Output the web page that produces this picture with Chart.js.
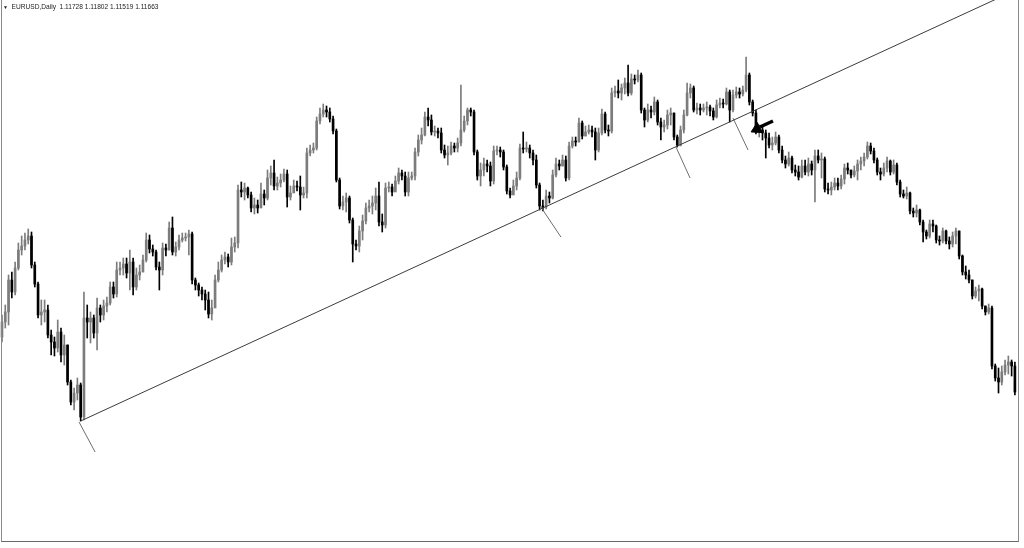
<!DOCTYPE html>
<html>
<head>
<meta charset="utf-8">
<script src="https://cdn.jsdelivr.net/npm/chart.js@4/dist/chart.umd.min.js"></script>
<style>
  html, body { margin: 0; padding: 0; background: #fff; }
  #wrap { position: relative; width: 1024px; height: 548px; overflow: hidden; }
  #chart { position: absolute; left: 0; top: 0; }
  #frame {
    position: absolute; left: 1px; top: 0; width: 1016px; height: 541px;
    border-left: 1px solid #8a8a8a; border-right: 1px solid #8a8a8a; border-bottom: 1px solid #6a6a6a;
    pointer-events: none;
  }
  #hdr {
    position: absolute; left: 3px; top: 3px; font-family: "Liberation Sans", Arial, sans-serif;
    font-size: 6.6px; color: #222; white-space: pre; line-height: 8px;
  }
</style>
</head>
<body>
<div id="wrap">
  <canvas id="chart" width="1024" height="548"></canvas>
  <div id="frame"></div>
  <div id="hdr"><span style="font-size:5px">▼</span>  EURUSD,Daily  1.11728 1.11802 1.11519 1.11663</div>
</div>
<script>
// daily candles, oldest first (open of each bar = previous close)
const firstOpen = 1.1663;
const closes = [
  1.1678,1.1688,1.1720,1.1708,1.1732,1.1750,1.1754,1.1760,1.1764,1.1735,
  1.1716,1.1685,1.1688,1.1690,1.1665,1.1658,1.1652,1.1668,1.1645,1.1655,
  1.1618,1.1598,1.1607,1.1615,1.1583,1.1682,1.1678,1.1682,1.1667,1.1692,
  1.1685,1.1694,1.1697,1.1713,1.1706,1.1730,1.1732,1.1736,1.1727,1.1738,
  1.1713,1.1725,1.1728,1.1740,1.1760,1.1751,1.1748,1.1733,1.1730,1.1752,
  1.1750,1.1772,1.1748,1.1753,1.1760,1.1762,1.1763,1.1766,1.1720,1.1715,
  1.1710,1.1706,1.1700,1.1686,1.1692,1.1720,1.1730,1.1740,1.1743,1.1738,
  1.1753,1.1757,1.1810,1.1808,1.1812,1.1805,1.1792,1.1795,1.1792,1.1806,
  1.1802,1.1822,1.1827,1.1814,1.1817,1.1820,1.1826,1.1803,1.1807,1.1814,
  1.1813,1.1805,1.1807,1.1847,1.1850,1.1852,1.1879,1.1886,1.1890,1.1888,
  1.1881,1.1869,1.1820,1.1794,1.1798,1.1802,1.1780,1.1756,1.1754,1.1769,
  1.1779,1.1792,1.1794,1.1797,1.1804,1.1778,1.1775,1.1812,1.1813,1.1808,
  1.1819,1.1827,1.1824,1.1808,1.1822,1.1824,1.1848,1.1860,1.1865,1.1883,
  1.1880,1.1868,1.1869,1.1867,1.1850,1.1845,1.1847,1.1854,1.1852,1.1857,
  1.1870,1.1879,1.1890,1.1888,1.1848,1.1824,1.1830,1.1836,1.1834,1.1819,
  1.1849,1.1850,1.1848,1.1833,1.1809,1.1805,1.1814,1.1822,1.1852,1.1851,
  1.1852,1.1847,1.1840,1.1815,1.1794,1.1793,1.1804,1.1802,1.1825,1.1836,
  1.1834,1.1840,1.1822,1.1854,1.1859,1.1858,1.1877,1.1864,1.1868,1.1870,
  1.1868,1.1850,1.1867,1.1886,1.1870,1.1869,1.1907,1.1909,1.1907,1.1912,
  1.1917,1.1907,1.1921,1.1920,1.1925,1.1890,1.1880,1.1890,1.1888,1.1898,
  1.1878,1.1873,1.1875,1.1885,1.1887,1.1863,1.1855,1.1870,1.1885,1.1907,
  1.1912,1.1890,1.1892,1.1890,1.1892,1.1893,1.1889,1.1883,1.1895,1.1897,
  1.1896,1.1908,1.1890,1.1905,1.1908,1.1906,1.1910,1.1925,1.1898,1.1887,
  1.1869,1.1870,1.1867,1.1862,1.1855,1.1857,1.1863,1.1850,1.1840,1.1836,
  1.1842,1.1830,1.1828,1.1823,1.1834,1.1828,1.1836,1.1830,1.1844,1.1840,
  1.1841,1.1811,1.1810,1.1813,1.1817,1.1814,1.1821,1.1832,1.1830,1.1825,
  1.1829,1.1836,1.1839,1.1843,1.1854,1.1849,1.1840,1.1828,1.1826,1.1832,
  1.1839,1.1828,1.1835,1.1818,1.1806,1.1804,1.1807,1.1789,1.1787,1.1790,
  1.1778,1.1768,1.1764,1.1776,1.1774,1.1760,1.1759,1.1769,1.1759,1.1756,
  1.1764,1.1769,1.1744,1.1728,1.1725,1.1720,1.1704,1.1709,1.1711,1.1694,
  1.1688,1.1692,1.1634,1.1622,1.1618,1.1628,1.1635,1.1638,1.1634,1.1608
];
const highs = [
  1.1685,1.1695,1.1725,1.1728,1.1738,1.1757,1.1764,1.1767,1.1771,1.1768,
  1.1738,1.1718,1.1700,1.1700,1.1695,1.1670,1.1663,1.1680,1.1672,1.1665,
  1.1655,1.1620,1.1612,1.1622,1.1617,1.1708,1.1695,1.1688,1.1685,1.1702,
  1.1695,1.1700,1.1703,1.1718,1.1718,1.1738,1.1738,1.1742,1.1742,1.1750,
  1.1742,1.1732,1.1735,1.1745,1.1767,1.1765,1.1755,1.1750,1.1738,1.1757,
  1.1756,1.1778,1.1783,1.1758,1.1765,1.1767,1.1767,1.1770,1.1768,1.1722,
  1.1717,1.1713,1.1710,1.1708,1.1700,1.1725,1.1738,1.1745,1.1748,1.1746,
  1.1762,1.1763,1.1815,1.1818,1.1817,1.1813,1.1808,1.1802,1.1800,1.1817,
  1.1810,1.1830,1.1834,1.1840,1.1823,1.1826,1.1831,1.1830,1.1814,1.1820,
  1.1819,1.1824,1.1813,1.1852,1.1855,1.1857,1.1883,1.1892,1.1896,1.1894,
  1.1892,1.1884,1.1871,1.1822,1.1804,1.1807,1.1804,1.1782,1.1760,1.1774,
  1.1785,1.1797,1.1800,1.1804,1.1812,1.1818,1.1786,1.1817,1.1818,1.1816,
  1.1824,1.1832,1.1830,1.1828,1.1828,1.1828,1.1852,1.1865,1.1872,1.1888,
  1.1892,1.1885,1.1874,1.1872,1.1872,1.1855,1.1854,1.1858,1.1857,1.1862,
  1.1915,1.1884,1.1892,1.1892,1.1890,1.1850,1.1837,1.1842,1.1840,1.1838,
  1.1854,1.1854,1.1853,1.1850,1.1835,1.1812,1.1820,1.1828,1.1856,1.1868,
  1.1858,1.1855,1.1850,1.1845,1.1817,1.1800,1.1810,1.1808,1.1830,1.1842,
  1.1840,1.1845,1.1844,1.1858,1.1863,1.1863,1.1882,1.1879,1.1874,1.1875,
  1.1874,1.1872,1.1872,1.1891,1.1888,1.1875,1.1912,1.1914,1.1920,1.1916,
  1.1922,1.1935,1.1926,1.1925,1.1930,1.1927,1.1892,1.1896,1.1894,1.1903,
  1.1900,1.1882,1.1880,1.1890,1.1892,1.1887,1.1865,1.1874,1.1890,1.1917,
  1.1916,1.1914,1.1897,1.1896,1.1896,1.1898,1.1895,1.1892,1.1900,1.1902,
  1.1901,1.1912,1.1910,1.1910,1.1913,1.1912,1.1914,1.1943,1.1927,1.1900,
  1.1890,1.1875,1.1873,1.1870,1.1867,1.1863,1.1868,1.1865,1.1854,1.1844,
  1.1848,1.1844,1.1835,1.1834,1.1840,1.1840,1.1842,1.1839,1.1850,1.1850,
  1.1847,1.1843,1.1817,1.1818,1.1822,1.1822,1.1825,1.1836,1.1837,1.1830,
  1.1834,1.1840,1.1843,1.1847,1.1858,1.1857,1.1852,1.1842,1.1832,1.1837,
  1.1843,1.1840,1.1840,1.1837,1.1820,1.1810,1.1813,1.1808,1.1792,1.1795,
  1.1791,1.1780,1.1770,1.1780,1.1780,1.1775,1.1764,1.1772,1.1770,1.1763,
  1.1768,1.1772,1.1769,1.1745,1.1734,1.1730,1.1720,1.1713,1.1715,1.1712,
  1.1694,1.1696,1.1694,1.1636,1.1632,1.1634,1.1640,1.1644,1.1640,1.1638
];
const lows = [
  1.1658,1.1672,1.1675,1.1702,1.1705,1.1730,1.1745,1.1750,1.1756,1.1732,
  1.1713,1.1682,1.1675,1.1678,1.1662,1.1645,1.1644,1.1648,1.1638,1.1635,
  1.1615,1.1595,1.1590,1.1600,1.1579,1.1580,1.1662,1.1657,1.1662,1.1650,
  1.1678,1.1680,1.1688,1.1695,1.1702,1.1703,1.1725,1.1725,1.1722,1.1710,
  1.1705,1.1710,1.1720,1.1728,1.1738,1.1747,1.1744,1.1730,1.1710,1.1725,
  1.1744,1.1750,1.1745,1.1744,1.1750,1.1758,1.1759,1.1745,1.1716,1.1710,
  1.1704,1.1700,1.1690,1.1682,1.1680,1.1698,1.1718,1.1728,1.1736,1.1733,
  1.1735,1.1748,1.1752,1.1803,1.1800,1.1802,1.1788,1.1786,1.1787,1.1793,
  1.1795,1.1800,1.1815,1.1810,1.1810,1.1813,1.1818,1.1793,1.1800,1.1808,
  1.1809,1.1790,1.1802,1.1802,1.1844,1.1847,1.1850,1.1876,1.1883,1.1883,
  1.1878,1.1866,1.1818,1.1791,1.1790,1.1788,1.1777,1.1738,1.1750,1.1748,
  1.1760,1.1776,1.1788,1.1786,1.1790,1.1774,1.1768,1.1772,1.1808,1.1804,
  1.1810,1.1816,1.1820,1.1804,1.1804,1.1820,1.1820,1.1844,1.1856,1.1864,
  1.1874,1.1865,1.1864,1.1862,1.1847,1.1842,1.1835,1.1845,1.1848,1.1848,
  1.1854,1.1868,1.1875,1.1884,1.1845,1.1820,1.1814,1.1824,1.1828,1.1814,
  1.1816,1.1845,1.1843,1.1830,1.1806,1.1802,1.1808,1.1810,1.1820,1.1847,
  1.1848,1.1842,1.1835,1.1812,1.1790,1.1789,1.1791,1.1797,1.1801,1.1823,
  1.1830,1.1834,1.1819,1.1820,1.1852,1.1854,1.1858,1.1861,1.1864,1.1866,
  1.1863,1.1840,1.1848,1.1865,1.1867,1.1864,1.1867,1.1903,1.1902,1.1900,
  1.1906,1.1904,1.1905,1.1916,1.1918,1.1887,1.1873,1.1878,1.1882,1.1885,
  1.1875,1.1860,1.1868,1.1871,1.1875,1.1860,1.1853,1.1854,1.1867,1.1884,
  1.1902,1.1888,1.1886,1.1885,1.1888,1.1885,1.1884,1.1880,1.1882,1.1892,
  1.1892,1.1895,1.1878,1.1888,1.1902,1.1902,1.1904,1.1908,1.1895,1.1884,
  1.1866,1.1863,1.1860,1.1842,1.1852,1.1850,1.1855,1.1847,1.1837,1.1832,
  1.1834,1.1827,1.1824,1.1820,1.1822,1.1825,1.1824,1.1825,1.1798,1.1837,
  1.1822,1.1808,1.1806,1.1805,1.1810,1.1810,1.1811,1.1816,1.1826,1.1822,
  1.1823,1.1820,1.1830,1.1834,1.1841,1.1846,1.1837,1.1825,1.1820,1.1824,
  1.1828,1.1825,1.1826,1.1815,1.1803,1.1802,1.1801,1.1786,1.1783,1.1783,
  1.1775,1.1758,1.1761,1.1762,1.1768,1.1757,1.1755,1.1757,1.1756,1.1751,
  1.1753,1.1756,1.1741,1.1725,1.1721,1.1717,1.1701,1.1702,1.1699,1.1691,
  1.1685,1.1686,1.1631,1.1619,1.1607,1.1615,1.1625,1.1626,1.1624,1.1605
];

// drawn objects (bar index, price)
const trendX = [24, 306];
const trendY = [1.1579, 1.2005];
const tickLines = [
  [[23.5, 1.1578], [28.4, 1.1548]],
  [[164.4, 1.1793], [170.5, 1.1763]],
  [[205.6, 1.1853], [209.9, 1.1822]],
  [[223.0, 1.1882], [227.6, 1.1850]]
];
const arrowShaft = [[235.2, 1.1879], [231.2, 1.1873]];
const arrowHead = [230.3, 1.1871];

const opens = [firstOpen, ...closes.slice(0, -1)];
const BULL = '#7c7c7c', BEAR = '#000000';
const colors = closes.map((c, i) => c >= opens[i] ? BULL : BEAR);

const wickData = closes.map((c, i) => ({ x: i, y: [lows[i], highs[i]] }));
const bodyData = closes.map((c, i) => ({ x: i, y: [opens[i], c] }));

const lineDs = (pts, color, width) => ({
  type: 'line',
  data: pts.map(p => ({ x: p[0], y: p[1] })),
  borderColor: color,
  borderWidth: width,
  pointRadius: 0,
  tension: 0,
  order: 0
});

const datasets = [
  { type: 'bar', data: wickData, backgroundColor: colors, barThickness: 1, grouped: false, borderWidth: 0, order: 3 },
  { type: 'bar', data: bodyData, backgroundColor: colors, barThickness: 2, grouped: false, borderWidth: 0, order: 2 },
  lineDs(trendX.map((x, i) => [x, trendY[i]]), '#3c3c3c', 1),
  ...tickLines.map(seg => lineDs(seg, '#6e6e6e', 1)),
  lineDs(arrowShaft, '#000', 3.5),
  {
    type: 'line',
    data: [{ x: arrowHead[0], y: arrowHead[1] }],
    showLine: false,
    pointStyle: 'triangle',
    pointRadius: 6.5,
    rotation: 243,
    pointBackgroundColor: '#000',
    pointBorderColor: '#000',
    pointBorderWidth: 1,
    order: 0
  }
];

const spacing = 3.278;
new Chart(document.getElementById('chart'), {
  type: 'bar',
  data: { datasets },
  options: {
    responsive: false,
    animation: false,
    events: [],
    layout: { padding: 0, autoPadding: false },
    scales: {
      x: { type: 'linear', display: false, offset: false, min: -2 / spacing, max: -2 / spacing + 1024 / spacing },
      y: { type: 'linear', display: false, min: 1.1452, max: 1.2000 }
    },
    plugins: { legend: { display: false }, tooltip: { enabled: false } }
  }
});
</script>
</body>
</html>
